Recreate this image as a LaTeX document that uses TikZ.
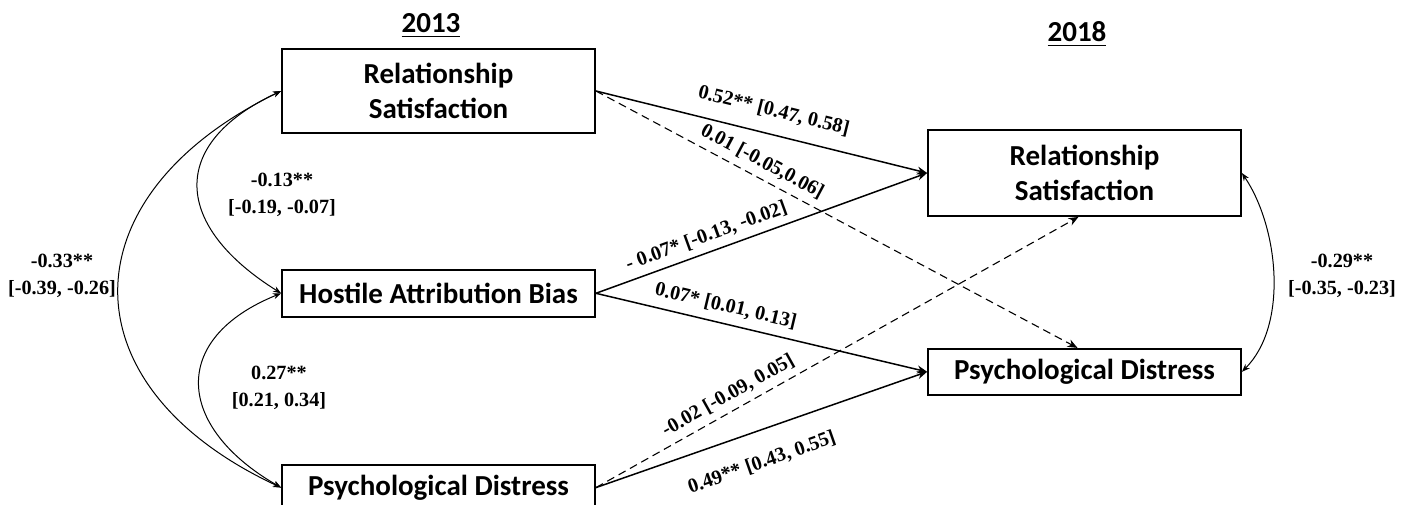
\documentclass[tikz,border=0pt]{standalone}
\usepackage{fontspec}
\setmainfont{Liberation Serif}
\newfontfamily\boxfont{Carlito}
\usetikzlibrary{arrows.meta,positioning}

\begin{document}
\begin{tikzpicture}[x=0.5pt, y=0.5pt,
    box/.style={draw, line width=0.9pt, minimum width=156.5pt, inner sep=0pt, align=center,
      font=\boxfont\bfseries\fontsize{14.5}{17.5}\selectfont},
    year/.style={anchor=base, font=\boxfont\bfseries\fontsize{14.5}{17.5}\selectfont},
    coef/.style={font=\bfseries\fontsize{10.1}{13.2}\selectfont, align=center},
    effect/.style={line width=0.75pt, -{Stealth[length=5pt,width=4pt]}},
    weak/.style={line width=0.55pt, dash pattern=on 4pt off 2.5pt},
    corr/.style={line width=0.5pt, {Stealth[length=4pt,width=3pt]}-{Stealth[length=4pt,width=3pt]}}]
    \useasboundingbox (0,0) rectangle (1408,504);

    \node[year] (y13) at (431,471) {\underline{2013}};
    \node[year] (y18) at (1077,462) {\underline{2018}};

    \node[box, minimum height=42pt] (rs13) at (438.5,413) {Relationship\\Satisfaction};
    \node[box, minimum height=23.5pt, below=67.5pt of rs13] (hab13) {Hostile Attribution Bias};
    \node[box, minimum height=23pt, below=73pt of hab13] (pd13) {Psychological Distress};
    \node[box, minimum height=43pt] (rs18) at (1084.5,331) {Relationship\\Satisfaction};
    \node[box, minimum height=23pt, below=65.5pt of rs18] (pd18) {Psychological Distress};

    \draw[effect] (rs13.east) -- node[coef, sloped, above, outer sep=4pt, pos=0.52] (b1) {0.52** [0.47, 0.58]} (rs18.west);
    \draw[effect, weak] (rs13.east) -- node[coef, sloped, above, pos=0.33] (b2) {0.01 [-0.05,0.06]} ([xshift=-3.5pt]pd18.north);
    \draw[effect] (hab13.east) -- node[coef, sloped, above, pos=0.35] (b3) {- 0.07* [-0.13, -0.02]} (rs18.west);
    \draw[effect] (hab13.east) -- node[coef, sloped, above, outer sep=1pt, pos=0.38] (b4) {0.07* [0.01, 0.13]} (pd18.west);
    \draw[effect, weak] (pd13.east) -- node[coef, sloped, above, pos=0.29] (b5) {-0.02 [-0.09, 0.05]} ([xshift=-3pt]rs18.south);
    \draw[effect] (pd13.east) -- node[coef, sloped, below, outer sep=8pt, pos=0.47] (b6) {0.49** [0.43, 0.55]} (pd18.west);

    \draw[corr] (rs13.west) to[out=205, in=148, looseness=1.6] (hab13.west);
    \draw[corr] (hab13.west) to[out=202, in=150, looseness=1.6] (pd13.west);
    \draw[corr] (rs13.west) to[out=206, in=155, looseness=1.55] (pd13.west);
    \draw[corr] (rs18.east) to[out=-56, in=45, looseness=0.85] (pd18.east);

    \node[coef] (c1) at (282,309) {-0.13**\\{[-0.19, -0.07]}};
    \node[coef] (c2) at (279,116) {0.27**\\{[0.21, 0.34]}};
    \node[coef] (c3) at (62,228) {-0.33**\\{[-0.39, -0.26]}};
    \node[coef] (c4) at (1342,228) {-0.29**\\{[-0.35, -0.23]}};
\end{tikzpicture}
\end{document}
